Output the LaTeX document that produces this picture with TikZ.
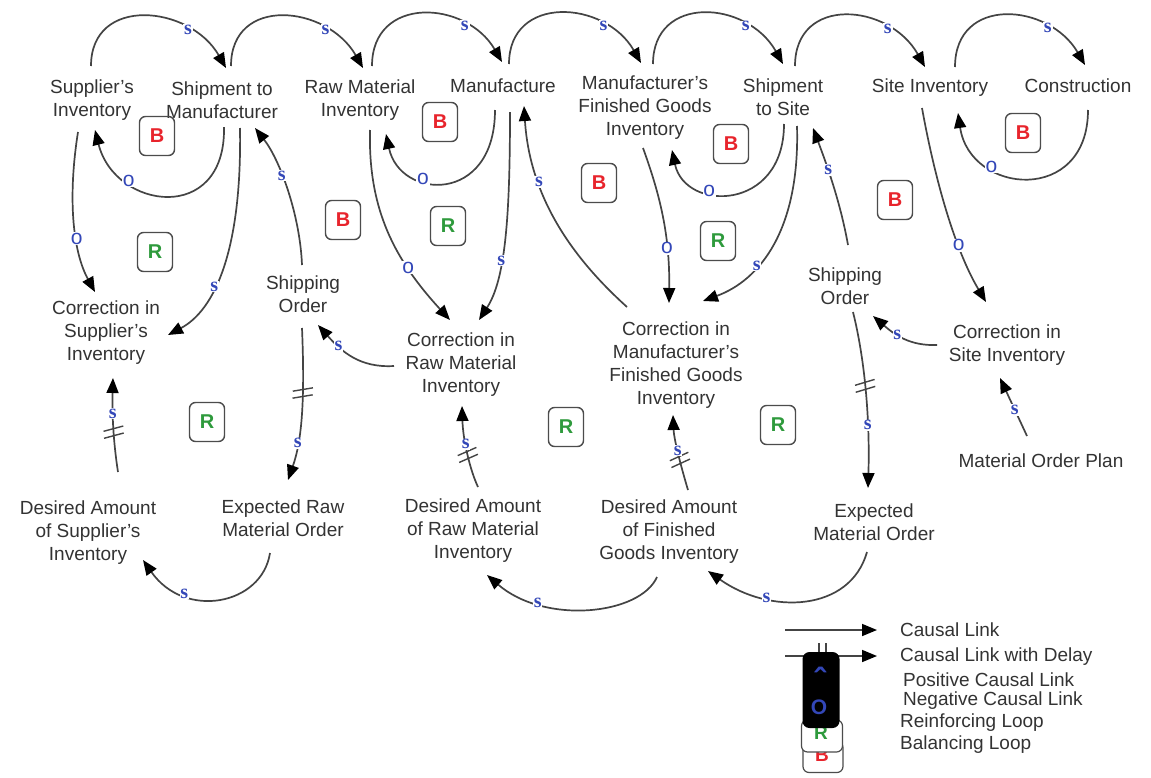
\documentclass[tikz,border=0pt]{standalone}
\usepackage{fontspec}
\setmainfont{Liberation Sans}
\newfontfamily\serifpol{Liberation Serif}
\usetikzlibrary{arrows.meta,calc,decorations.markings}
\definecolor{txt}{HTML}{333333}
\definecolor{lnk}{HTML}{444444}
\definecolor{polblue}{HTML}{3347B8}
\definecolor{bred}{HTML}{E8242C}
\definecolor{rgreen}{HTML}{2E9A3C}
\tikzset{
  var/.style={align=center, text=txt, font=\fontsize{19}{23}\selectfont, inner sep=0pt},
  legtxt/.style={anchor=west, text=txt, font=\fontsize{19}{21}\selectfont, inner sep=0pt},
  link/.style={draw=lnk, line width=1.7pt, -{Triangle[length=15pt,width=12pt,color=black]}},
  ps/.style={fill=white, inner sep=0.8pt, text=polblue, font=\serifpol\bfseries\fontsize{20}{20}\selectfont},
  po/.style={fill=white, inner sep=0.8pt, text=polblue, font=\fontsize{21}{21}\selectfont},
  lpbox/.style={draw=black!70, line width=1.4pt, rounded corners=6pt, minimum width=35pt, minimum height=39pt, inner sep=0pt, font=\bfseries\fontsize{20}{20}\selectfont},
  lpb/.style={lpbox, text=bred},
  lpr/.style={lpbox, text=rgreen},
  lag/.style={postaction={decorate}, decoration={markings, mark=at position #1 with {\draw[lnk,line width=1.4pt,-] (-5,-10)--(-1,10) (2,-10)--(6,10);}}}
}
\begin{document}
\begin{tikzpicture}[x=1pt,y=-1pt]
\fill[white] (0,0) rectangle (1151,777);
\useasboundingbox (0,0) rectangle (1151,777);

% variables
\node[var] (sup) at (92,100) {Supplier's\\Inventory};
\node[var] (shipm) at (222,100) {Shipment to\\Manufacturer};
\node[var] (raw) at (360,100) {Raw Material\\Inventory};
\node[var] (manu) at (503,86) {Manufacture};
\node[var] (fg) at (645,108) {Manufacturer's\\Finished Goods\\Inventory};
\node[var] (shipsite) at (783,97) {Shipment\\to Site};
\node[var] (site) at (930,88) {Site Inventory};
\node[var] (cons) at (1078,86) {Construction};

\node[var] (csup) at (106,333) {Correction in\\Supplier's\\Inventory};
\node[var] (sol) at (303,294) {Shipping\\Order};
\node[var] (craw) at (461,365) {Correction in\\Raw Material\\Inventory};
\node[var] (cfg) at (676,365) {Correction in\\Manufacturer's\\Finished Goods\\Inventory};
\node[var] (sor) at (845,286) {Shipping\\Order};
\node[var] (csite) at (1007,345) {Correction in\\Site Inventory};
\node[var] (mop) at (1041,461) {Material Order Plan};

\node[var] (dsup) at (88,533) {Desired Amount\\of Supplier's\\Inventory};
\node[var] (erm) at (283,518) {Expected Raw\\Material Order};
\node[var] (draw) at (473,531) {Desired Amount\\of Raw Material\\Inventory};
\node[var] (dfg) at (669,532) {Desired Amount\\of Finished\\Goods Inventory};
\node[var] (em) at (874,522) {Expected\\Material Order};

% loop markers
\node[lpb] (lb1) at (157,136) {B};
\node[lpr] (lr1) at (155,252) {R};
\node[lpb] (lb2) at (343,220) {B};
\node[lpb] (lb3) at (440,122) {B};
\node[lpr] (lr2) at (448,226) {R};
\node[lpb] (lb4) at (599,183) {B};
\node[lpb] (lb5) at (731,144) {B};
\node[lpr] (lr3) at (718,241) {R};
\node[lpb] (lb6) at (1023,133) {B};
\node[lpb] (lb7) at (895,200) {B};
\node[lpr] (lr4) at (207,422) {R};
\node[lpr] (lr5) at (566,427) {R};
\node[lpr] (lr6) at (778,425) {R};

% top arcs
\draw[link] ($(sup)+(-1,-34)$) .. controls (91,-5) and (190,5) .. ($(shipm)+(4,-32)$) node[ps,pos=.74]{s};
\draw[link] ($(shipm)+(9,-34)$) .. controls (231,-5) and (327,5) .. ($(raw)+(3,-32)$) node[ps,pos=.74]{s};
\draw[link] ($(raw)+(12,-34)$) .. controls (372,-5) and (466,0) .. ($(manu)+(-1,-24)$) node[ps,pos=.74]{s};
\draw[link] ($(manu)+(6,-22)$) .. controls (509,-6) and (605,0) .. ($(fg)+(-4,-45)$) node[ps,pos=.74]{s};
\draw[link] ($(fg)+(8,-44)$) .. controls (653,-6) and (747,0) .. ($(shipsite)+(0,-33)$) node[ps,pos=.74]{s};
\draw[link] ($(shipsite)+(12,-31)$) .. controls (795,-5) and (889,3) .. ($(site)+(-5,-21)$) node[ps,pos=.74]{s};
\draw[link] ($(site)+(25,-21)$) .. controls (955,-5) and (1049,3) .. ($(cons)+(7,-21)$) node[ps,pos=.74]{s};

% small balancing returns
\draw[link] ($(shipm)+(2,27)$) .. controls (226,225) and (115,210) .. ($(sup)+(3,30)$) node[po,pos=.72]{o};
\draw[link] ($(manu)+(-8,24)$) .. controls (495,205) and (400,200) .. ($(raw)+(26,34)$) node[po,pos=.65]{o};
\draw[link] ($(shipsite)+(1,27)$) .. controls (784,212) and (685,212) .. ($(fg)+(27,42)$) node[po,pos=.65]{o};
\draw[link] ($(cons)+(10,24)$) .. controls (1088,205) and (970,195) .. ($(site)+(28,25)$) node[po,pos=.7]{o};

% longer links
\draw[link] ($(sup)+(-14,32)$) .. controls (68,195) and (72,250) .. ($(csup)+(-11,-41)$) node[po,pos=.62]{o};
\draw[link] ($(shipm)+(18,28)$) .. controls (242,250) and (215,310) .. ($(csup)+(62,2)$) node[ps,pos=.6]{s};
\draw[link] ($(sol)+(-1,-29)$) .. controls (300,215) and (280,160) .. ($(shipm)+(33,28)$) node[ps,pos=.6]{s};
\draw[link] ($(raw)+(10,30)$) .. controls (368,210) and (395,260) .. ($(craw)+(-11,-45)$) node[po,pos=.7]{o};
\draw[link] ($(manu)+(7,26)$) .. controls (510,220) and (505,280) .. ($(craw)+(18,-45)$) node[ps,pos=.6]{s};
\draw[link] ($(craw)+(-67,1)$) .. controls (360,368) and (342,352) .. ($(sol)+(15,31)$) node[ps,pos=.7]{s};
\draw[link,lag=.42] ($(sol)+(-1,34)$) .. controls (305,400) and (302,440) .. ($(erm)+(5,-38)$) node[ps,pos=.7]{s};
\draw[link,lag=.42] ($(dsup)+(30,-61)$) .. controls (113,440) and (112,410) .. ($(csup)+(7,45)$) node[ps,pos=.62]{s};
\draw[link] ($(erm)+(-13,35)$) .. controls (262,605) and (185,620) .. ($(dsup)+(55,27)$) node[ps,pos=.72]{s};
\draw[link] ($(fg)+(-2,40)$) .. controls (660,195) and (670,235) .. ($(cfg)+(-7,-62)$) node[po,pos=.7]{o};
\draw[link] ($(shipsite)+(14,29)$) .. controls (800,230) and (760,280) .. ($(cfg)+(27,-64)$) node[ps,pos=.64]{s};
\draw[link] ($(cfg)+(-49,-58)$) .. controls (575,260) and (530,200) .. ($(manu)+(21,20)$) node[ps,pos=.7]{s};
\draw[link] ($(sor)+(3,-41)$) .. controls (840,200) and (825,160) .. ($(shipsite)+(30,31)$) node[ps,pos=.6]{s};
\draw[link,lag=.42] ($(sor)+(8,26)$) .. controls (865,360) and (870,420) .. ($(em)+(-6,-34)$) node[ps,pos=.68]{s};
\draw[link] ($(csite)+(-70,0)$) .. controls (910,346) and (895,335) .. ($(sor)+(28,30)$) node[ps,pos=.6]{s};
\draw[link] ($(site)+(-8,20)$) .. controls (935,180) and (955,250) .. ($(csite)+(-21,-43)$) node[po,pos=.67]{o};
\draw[link] ($(mop)+(-14,-25)$) -- ($(csite)+(-7,33)$) node[ps,pos=.45]{s};
\draw[link,lag=.4] ($(dfg)+(19,-42)$) .. controls (682,470) and (674,440) .. ($(cfg)+(-3,50)$) node[ps,pos=.55]{s};
\draw[link,lag=.4] ($(draw)+(5,-44)$) .. controls (470,470) and (463,440) .. ($(craw)+(1,41)$) node[ps,pos=.6]{s};
\draw[link] ($(dfg)+(-12,45)$) .. controls (640,615) and (545,625) .. ($(draw)+(14,44)$) node[ps,pos=.74]{s};
\draw[link] ($(em)+(-7,30)$) .. controls (850,612) and (770,615) .. ($(dfg)+(39,39)$) node[ps,pos=.7]{s};

% legend
\coordinate (l1a) at (785,630);
\coordinate (l1b) at (877,630);
\coordinate (l2a) at (785,656);
\coordinate (l2b) at (877,656);
\draw[link] (l1a) -- (l1b);
\draw[link] (l2a) -- (l2b);
\draw[lnk,line width=1.2pt] (819,643)--(819,668) (826,643)--(826,668);
\node[draw=black!70, line width=1.2pt, fill=white, rounded corners=6pt, minimum width=40pt, minimum height=31pt, inner sep=0pt] (legb) at (823,757) {};
\node[text=bred, font=\bfseries\fontsize{19}{19}\selectfont, inner sep=0pt] (legbt) at (822,755) {B};
\node[draw=black!70, line width=1.2pt, fill=white, rounded corners=6pt, minimum width=41pt, minimum height=32pt, inner sep=0pt] (legr) at (822,736) {};
\node[text=rgreen, font=\bfseries\fontsize{19}{19}\selectfont, inner sep=0pt] (legrt) at (821,733) {R};
\node[fill=black, rounded corners=7pt, minimum width=37pt, minimum height=76pt, inner sep=0pt] (legk) at (821,690) {};
\node[text=polblue, font=\bfseries\fontsize{34}{34}\selectfont, inner sep=0pt] (legs) at (820,680) {\char"02C6};
\node[text=polblue, font=\bfseries\fontsize{21}{21}\selectfont, inner sep=0pt] (lego) at (819,707) {O};

\node[legtxt] (t1) at (900,630) {Causal Link};
\node[legtxt] (t2) at (900,657) {Causal Link with Delay};
\node[legtxt] (t3) at (903,680) {Positive Causal Link};
\node[legtxt] (t4) at (903,701) {Negative Causal Link};
\node[legtxt] (t5) at (900,723) {Reinforcing Loop};
\node[legtxt] (t6) at (900,745) {Balancing Loop};
\end{tikzpicture}
\end{document}
